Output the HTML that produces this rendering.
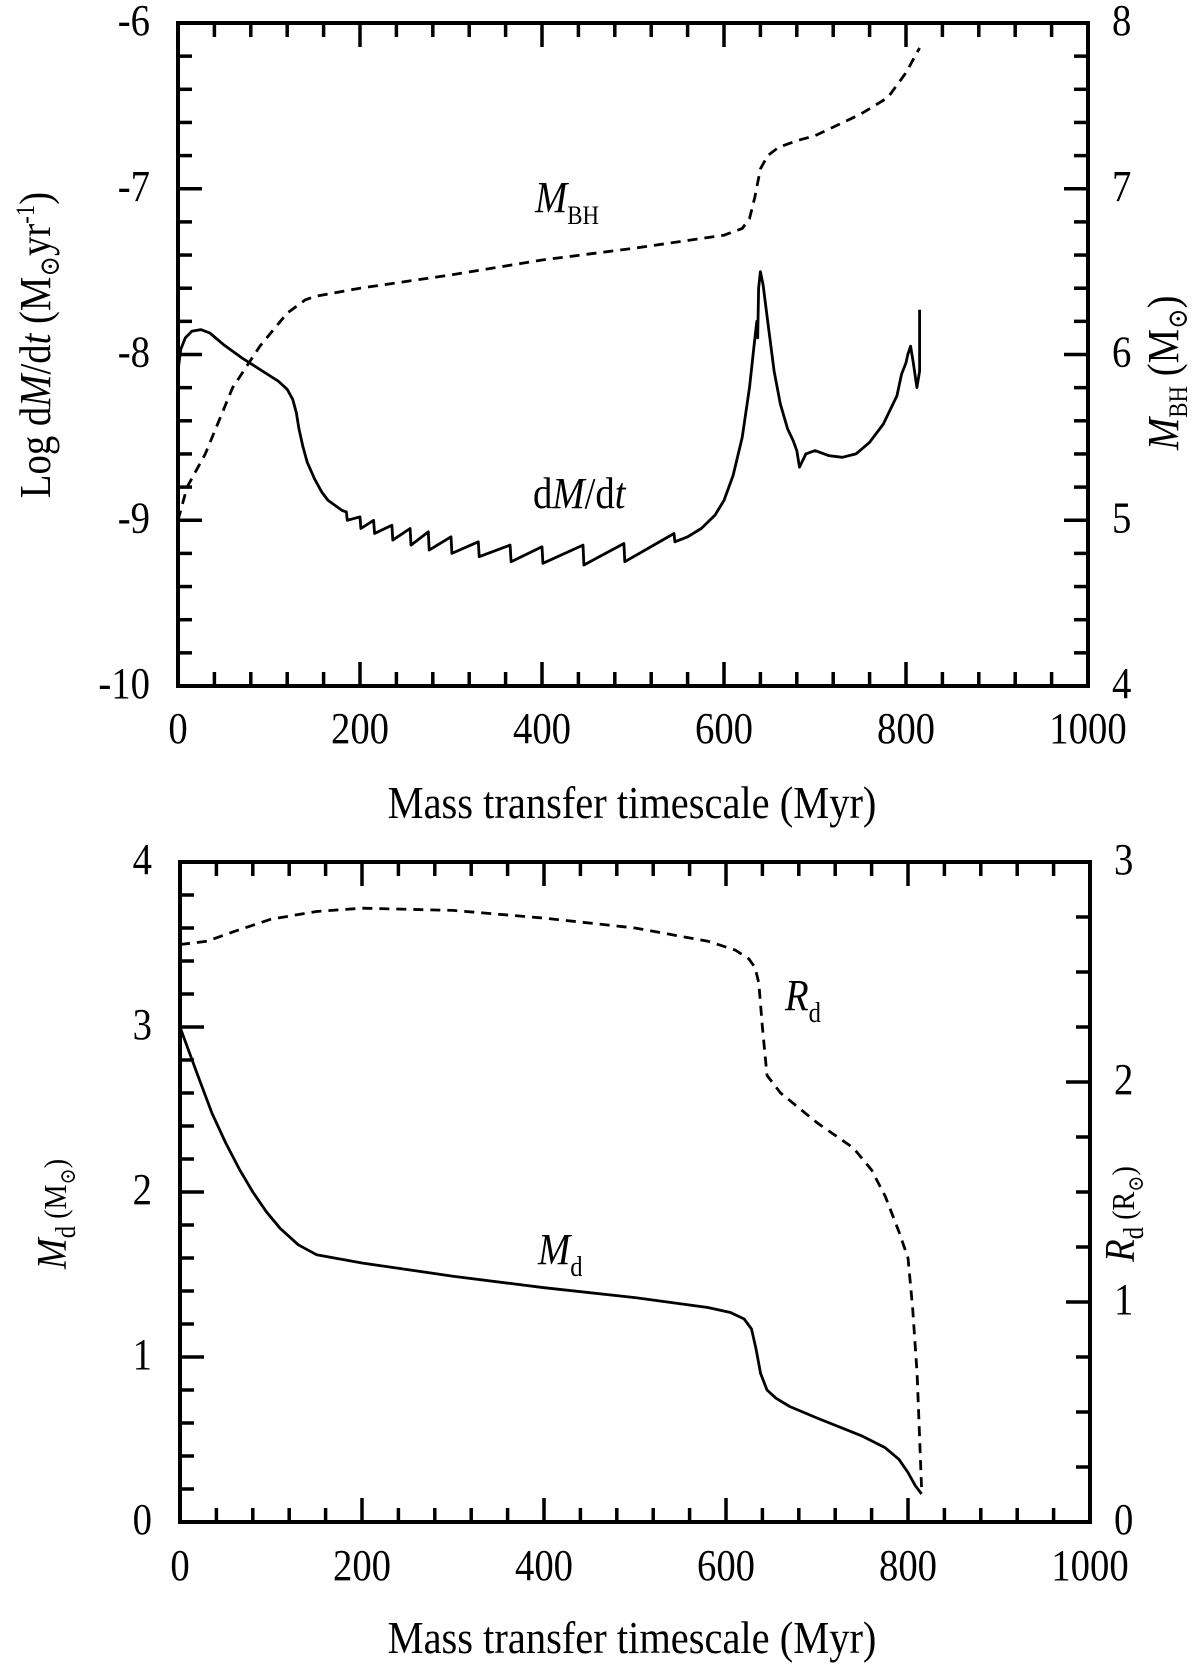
<!DOCTYPE html>
<html><head><meta charset="utf-8"><style>
html,body{margin:0;padding:0;background:#fff;}
svg{display:block;font-family:"Liberation Serif","DejaVu Serif",serif;}
</style></head><body>
<svg id="chart" width="1200" height="1667" viewBox="0 0 1200 1667" xmlns="http://www.w3.org/2000/svg">
<g id="p1"></g>
<g id="p2"></g>
</svg>
<script>
// ---- Top panel data ----
const mdotX = [0,3,8,15,25,35,50,70,90,110,120,126,130,133,137,142,150,158,165,175,180,185,186,200,201,215,216,235,236,255,256,275,276,300,301,330,331,365,366,400,401,445,446,490,491,545,546,560,575,590,600,610,620,628,633,636,637,638,640,643,648,655,662,670,676,680,683,690,700,715,730,745,760,775,790,795,800,802,805,808,812,815,815];
const mdotY = [-8.1,-7.97,-7.9,-7.86,-7.85,-7.87,-7.94,-8.02,-8.09,-8.16,-8.21,-8.27,-8.35,-8.45,-8.55,-8.65,-8.75,-8.83,-8.88,-8.92,-8.94,-8.95,-9.0,-8.98,-9.05,-9.0,-9.08,-9.03,-9.12,-9.05,-9.15,-9.07,-9.18,-9.1,-9.2,-9.13,-9.22,-9.15,-9.25,-9.16,-9.26,-9.15,-9.27,-9.14,-9.25,-9.08,-9.13,-9.1,-9.05,-8.97,-8.88,-8.73,-8.5,-8.2,-7.95,-7.8,-7.9,-7.6,-7.5,-7.58,-7.8,-8.1,-8.3,-8.45,-8.52,-8.58,-8.68,-8.6,-8.58,-8.61,-8.62,-8.6,-8.53,-8.42,-8.25,-8.12,-8.05,-8.0,-7.95,-8.05,-8.2,-8.1,-7.73];
const mbhX = [0,10,30,60,90,120,140,150,200,300,400,500,600,620,628,634,640,648,660,680,700,750,780,800,815];
const mbhY = [5.0,5.2,5.4,5.8,6.05,6.25,6.33,6.35,6.4,6.48,6.57,6.64,6.72,6.76,6.82,6.95,7.12,7.2,7.25,7.29,7.32,7.45,7.55,7.7,7.85];
const xTicks1 = [0,200,400,600,800,1000];
const yLeftTicks1 = [-10,-9,-8,-7,-6];
const yRightTicks1 = [4,5,6,7,8];
// ---- Bottom panel data ----
const mdX = [0,10,20,35,50,65,80,95,110,130,150,200,300,400,500,580,605,620,628,633,638,645,655,670,700,750,775,790,800,808,815];
const mdY = [3.0,2.85,2.7,2.48,2.3,2.14,2.0,1.88,1.78,1.68,1.62,1.57,1.49,1.42,1.36,1.3,1.27,1.23,1.17,1.05,0.9,0.8,0.75,0.7,0.63,0.52,0.45,0.38,0.3,0.22,0.17];
const rdX = [0,30,60,100,150,200,300,400,500,580,610,625,632,636,640,645,660,700,740,760,775,790,800,805,810,815];
const rdY = [2.625,2.64,2.685,2.74,2.775,2.79,2.78,2.745,2.7,2.64,2.6,2.56,2.52,2.45,2.25,2.03,1.95,1.815,1.7,1.6,1.48,1.32,1.2,0.975,0.675,0.15];
const yLeftTicks2 = [0,1,2,3,4];
const yRightTicks2 = [0,1,2,3];

const NS="http://www.w3.org/2000/svg";
const FS=44, SX=0.88;
function mk(parent,tag,attrs,text){const e=document.createElementNS(NS,tag);for(const k in attrs)e.setAttribute(k,attrs[k]);if(text!==undefined)e.textContent=text;parent.appendChild(e);return e;}
function scale(d0,d1,r0,r1){return v=>r0+(v-d0)/(d1-d0)*(r1-r0);}
function lbl(g,x,y,anchor,txt){
  return mk(g,'text',{transform:`translate(${x},${y}) scale(${SX},1)`,'text-anchor':anchor,'font-size':FS},txt);
}

function panel(g,L,R,T,B,yl0,yl1,yr0,yr1,lMinor,rMinor,yLT,yRT,xOff){
  const sx=scale(0,1000,L,R), syl=scale(yl0,yl1,B,T), syr=scale(yr0,yr1,B,T);
  for(let v=0;v<=1000;v+=40){
    const major = v%200===0;
    const len = major?24:14;
    const t1=mk(g,'line',{x1:sx(v),x2:sx(v),y1:B,y2:B-len,stroke:'#000','stroke-width':3.5});
    
    
    const t2=mk(g,'line',{x1:sx(v),x2:sx(v),y1:T,y2:T+len,stroke:'#000','stroke-width':3.5});
    
    
  }
  for(let v=yl0;v<=yl1+1e-9;v+=lMinor){
    const major=Math.abs(v-Math.round(v))<1e-6;
    const t=mk(g,'line',{x1:L,x2:L+(major?24:14),y1:syl(v),y2:syl(v),stroke:'#000','stroke-width':3.5});
    
    
  }
  for(let v=yr0;v<=yr1+1e-9;v+=rMinor){
    const major=Math.abs(v-Math.round(v))<1e-6;
    const t=mk(g,'line',{x1:R,x2:R-(major?24:14),y1:syr(v),y2:syr(v),stroke:'#000','stroke-width':3.5});
    
    
  }
  const fr=mk(g,'rect',{x:L,y:T,width:R-L,height:B-T,fill:'none',stroke:'#000','stroke-width':4});
  
  
  xTicks1.forEach(v=>{
    const t=lbl(g,sx(v),B+xOff,'middle',String(v));
    
    
  });
  yLT.forEach(v=>{
    const t=lbl(g,L-28,syl(v)+12,'end',String(v));
    
    
  });
  yRT.forEach(v=>{
    const t=lbl(g,R+24,syr(v)+12,'start',String(v));
    
    
  });
  return {sx,syl,syr};
}
function line(g,xs,ys,sx,sy,dash,name){
  const d=xs.map((x,i)=>(i?'L':'M')+sx(x).toFixed(1)+','+sy(ys[i]).toFixed(1)).join(' ');
  const p=mk(g,'path',{d:d,fill:'none',stroke:'#000','stroke-width':2.8,'stroke-dasharray':dash||'none','stroke-linejoin':'round'});
  
  
}

const g1=document.getElementById('p1');
const a1=panel(g1,178,1088,23,686,-10,-6,4,8,0.2,0.2,yLeftTicks1,yRightTicks1,57);
line(g1,mdotX,mdotY,a1.sx,a1.syl,null,'dmdt-line');
line(g1,mbhX,mbhY,a1.sx,a1.syr,'10,7','mbh-line');
const g2=document.getElementById('p2');
const a2=panel(g2,180,1090,862,1522,0,4,0,3,0.2,0.25,yLeftTicks2,yRightTicks2,58);
line(g2,mdX,mdY,a2.sx,a2.syl,null,'md-line');
line(g2,rdX,rdY,a2.sx,a2.syr,'10,7','rd-line');
</script>
<svg width="1200" height="1667" style="position:absolute;left:0;top:0" font-family="Liberation Serif, DejaVu Serif, serif">
  <text transform="translate(632,818) scale(0.88,1)" text-anchor="middle" font-size="46">Mass transfer timescale (Myr)</text>
  <text transform="translate(632,1653) scale(0.88,1)" text-anchor="middle" font-size="46">Mass transfer timescale (Myr)</text>
  <text transform="translate(50,345) rotate(-90) scale(0.88,1)" text-anchor="middle" font-size="44">Log d<tspan font-style="italic">M</tspan>/d<tspan font-style="italic">t</tspan> (M<tspan font-size="28" dy="9">⊙</tspan><tspan dy="-9">yr</tspan><tspan font-size="26" dy="-16">-1</tspan><tspan dy="16">)</tspan></text>
  <text transform="translate(1178,450) rotate(-90) scale(0.88,1)" text-anchor="start" font-size="44"><tspan font-style="italic">M</tspan><tspan font-size="26" dy="9">BH</tspan><tspan dy="-9"> (M</tspan><tspan font-size="28" dy="9">⊙</tspan><tspan dy="-9">)</tspan></text>
  <text transform="translate(66,1214) rotate(-90) scale(0.88,1)" text-anchor="middle" font-size="42"><tspan font-style="italic">M</tspan><tspan font-size="28" dy="9">d</tspan><tspan dy="-9" font-size="32"> (M</tspan><tspan font-size="22" dy="9">⊙</tspan><tspan dy="-9" font-size="32">)</tspan></text>
  <text transform="translate(1134,1214) rotate(-90) scale(0.88,1)" text-anchor="middle" font-size="42"><tspan font-style="italic">R</tspan><tspan font-size="28" dy="9">d</tspan><tspan dy="-9" font-size="32"> (R</tspan><tspan font-size="22" dy="9">⊙</tspan><tspan dy="-9" font-size="32">)</tspan></text>
  <text transform="translate(535,212) scale(0.88,1)" font-size="44"><tspan font-style="italic">M</tspan><tspan font-size="26" dy="12">BH</tspan></text>
  <text transform="translate(533,508) scale(0.88,1)" font-size="44">d<tspan font-style="italic">M</tspan>/d<tspan font-style="italic">t</tspan></text>
  <text transform="translate(785,1010) scale(0.88,1)" font-size="44"><tspan font-style="italic">R</tspan><tspan font-size="28" dy="12">d</tspan></text>
  <text transform="translate(538,1264) scale(0.88,1)" font-size="44"><tspan font-style="italic">M</tspan><tspan font-size="28" dy="12">d</tspan></text>
</svg>
</body></html>
